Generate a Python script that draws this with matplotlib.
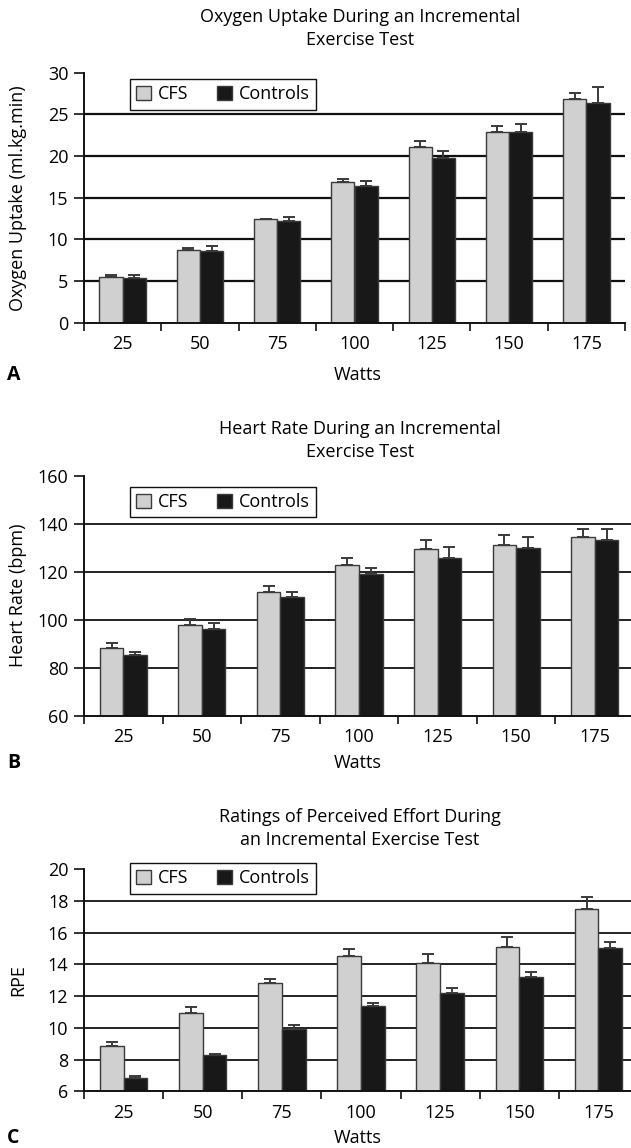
"""
Three bar panels: oxygen uptake, heart rate and RPE during an incremental
exercise test, CFS vs controls.
"""

import matplotlib.pyplot as plt
from matplotlib.patches import Patch
import numpy as np


W, H = 631, 1148
FONT = ["Liberation Sans Narrow", "Open Sans", "DejaVu Sans"]
FS = 13

CFS_FILL = "#cfd0cf"
CTRL_FILL = "#181818"
EDGE = "#3a3a3a"

watts = ["25", "50", "75", "100", "125", "150", "175"]

vo2_cfs = [5.5, 8.7, 12.4, 16.85, 21.1, 22.85, 26.9]
vo2_cfs_err = [0.25, 0.25, 0.1, 0.45, 0.65, 0.7, 0.7]
vo2_ctrl = [5.35, 8.65, 12.25, 16.35, 19.8, 22.9, 26.35]
vo2_ctrl_err = [0.4, 0.5, 0.4, 0.7, 0.75, 0.95, 1.9]

hr_cfs = [88.3, 97.8, 111.5, 122.9, 129.3, 131.0, 134.6]
hr_cfs_err = [2.0, 2.6, 2.4, 2.9, 3.9, 4.3, 3.2]
hr_ctrl = [85.3, 96.3, 109.6, 119.2, 125.8, 130.0, 133.3]
hr_ctrl_err = [1.4, 2.2, 1.8, 2.3, 4.5, 4.3, 4.5]

rpe_cfs = [8.85, 10.95, 12.8, 14.5, 14.05, 15.1, 17.5]
rpe_cfs_err = [0.27, 0.36, 0.27, 0.44, 0.6, 0.63, 0.75]
rpe_ctrl = [6.86, 8.3, 9.95, 11.4, 12.2, 13.2, 15.05]
rpe_ctrl_err = [0.13, 0.07, 0.25, 0.19, 0.3, 0.32, 0.34]

plt.rcParams["font.family"] = FONT
plt.rcParams["font.size"] = FS


def px_axes(fig, left, right, top, bottom):
    return fig.add_axes([left / W, 1 - bottom / H, (right - left) / W, (bottom - top) / H])


def panel(fig, box, cfs, cfs_err, ctrl, ctrl_err, yticks, title, title_y,
          ylabel, letter, label_y, legend_top, grid_lw):
    ax = px_axes(fig, *box)
    x = np.arange(len(watts))
    bw = 0.3
    ax.bar(x - bw / 2, cfs, bw, color=CFS_FILL, edgecolor=EDGE, linewidth=1.0, zorder=3)
    ax.bar(x + bw / 2, ctrl, bw, color=CTRL_FILL, edgecolor=EDGE, linewidth=1.0, zorder=3)
    for xs, ys, es in ((x - bw / 2, cfs, cfs_err), (x + bw / 2, ctrl, ctrl_err)):
        ax.errorbar(xs, ys, yerr=[np.zeros(len(es)), es], fmt="none", ecolor=EDGE,
                    elinewidth=1.4, capsize=4.3, capthick=1.4, zorder=4)

    ax.set_xlim(-0.5, len(watts) - 0.5)
    ax.set_ylim(yticks[0], yticks[-1])
    ax.set_yticks(yticks)
    for y in yticks[1:-1]:
        ax.axhline(y, color="#111111", lw=grid_lw, zorder=1)

    ax.set_xticks(np.arange(len(watts) + 1) - 0.5)
    ax.set_xticklabels([])
    ax.set_xticks(x, minor=True)
    ax.set_xticklabels(watts, minor=True)
    ax.tick_params(axis="x", which="major", length=6, width=1.2, color="#111111")
    ax.tick_params(axis="x", which="minor", length=0, pad=9, labelsize=FS)
    ax.tick_params(axis="y", length=7, width=1.2, pad=4.3, labelsize=FS, color="#111111")

    for side in ("top", "right"):
        ax.spines[side].set_visible(False)
    for side in ("left", "bottom"):
        ax.spines[side].set_linewidth(1.4)
        ax.spines[side].set_color("#111111")
        ax.spines[side].set_zorder(5)

    left, right, top, bottom = box
    fig.text(360 / W, 1 - title_y / H, title, ha="center", va="center",
             fontsize=FS, linespacing=1.35)
    fig.text(18 / W, 1 - (top + bottom) / 2 / H, ylabel, rotation=90,
             ha="center", va="center", fontsize=FS)
    fig.text(358 / W, 1 - label_y / H, "Watts", ha="center", va="center", fontsize=FS)
    fig.text(13.5 / W, 1 - label_y / H, letter, ha="center", va="center",
             fontsize=FS + 1, fontweight="bold")

    handles = [Patch(facecolor=CFS_FILL, edgecolor=EDGE, label="CFS"),
               Patch(facecolor=CTRL_FILL, edgecolor=EDGE, label="Controls")]
    leg = ax.legend(handles=handles, ncol=2, loc="upper left",
                    bbox_to_anchor=(130 / W, 1 - legend_top / H),
                    bbox_transform=fig.transFigure, borderaxespad=0,
                    fancybox=False, edgecolor="#111111", framealpha=1,
                    handlelength=0.8, handleheight=0.8, handletextpad=0.4,
                    columnspacing=1.6, borderpad=0.35, fontsize=FS)
    leg.get_frame().set_linewidth(1.0)
    leg.set_zorder(6)
    return ax


fig = plt.figure(figsize=(W / 100, H / 100), dpi=100)

panel(fig, (84, 625, 72.7, 322.7), vo2_cfs, vo2_cfs_err, vo2_ctrl, vo2_ctrl_err,
      [0, 5, 10, 15, 20, 25, 30],
      "Oxygen Uptake During an Incremental\nExercise Test", 28.9,
      "Oxygen Uptake (ml.kg.min)", "A", 375, 79, 1.6)

panel(fig, (84, 634, 475.7, 715.7), hr_cfs, hr_cfs_err, hr_ctrl, hr_ctrl_err,
      [60, 80, 100, 120, 140, 160],
      "Heart Rate During an Incremental\nExercise Test", 440.2,
      "Heart Rate (bpm)", "B", 763, 486.7, 1.3)

panel(fig, (84, 638, 869, 1091.3), rpe_cfs, rpe_cfs_err, rpe_ctrl, rpe_ctrl_err,
      [6, 8, 10, 12, 14, 16, 18, 20],
      "Ratings of Perceived Effort During\nan Incremental Exercise Test", 828.9,
      "RPE", "C", 1138, 863, 1.3)

fig.savefig("out.png", dpi=100)
